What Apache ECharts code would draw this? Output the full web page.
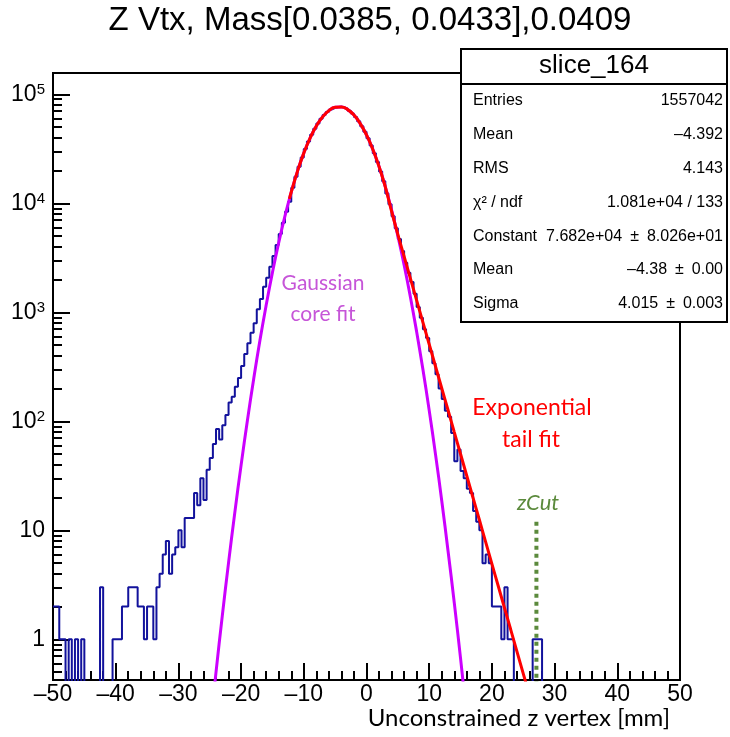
<!DOCTYPE html>
<html>
<head>
<meta charset="utf-8">
<script src="https://cdn.jsdelivr.net/npm/echarts@6/dist/echarts.min.js"></script>
<style>
  html, body { margin: 0; padding: 0; background: #fff; }
  #chart { width: 730px; height: 737px; }
</style>
</head>
<body>
<div id="chart"></div>
<script>
// z vertex histogram, 200 bins of 0.5 mm from -50 to 50
var binLow = -50;
var binWidth = 0.5;
var counts = [
  2, 2, 1, 1, 0, 1, 0, 1, 0, 1,
  0, 0, 0, 0, 0, 3, 0, 0, 0, 1,
  1, 1, 2, 2, 3, 3, 3, 2, 2, 1,
  2, 2, 1, 3, 4, 6, 8, 4, 6, 7,
  10, 7, 13, 13, 13, 22, 17, 30, 19, 36,
  46, 62, 85, 68, 92, 114, 149, 168, 208, 250,
  321, 414, 520, 650, 793, 1066, 1325, 1718, 2077, 2620,
  3285, 4145, 5228, 6637, 8375, 10350, 13900, 17500, 21600, 26300,
  31400, 36900, 42500, 48300, 54000, 59500, 64500, 68900, 72500, 75000,
  76400, 76800, 75900, 73800, 70700, 66700, 62000, 56600, 51000, 45200,
  39500, 33900, 28700, 23900, 19600, 15900, 12300, 9800, 7600, 5900,
  4700, 3650, 2850, 2300, 1900, 1480, 1120, 890, 700, 580,
  440, 340, 270, 200, 160, 125, 110, 78, 43, 55,
  35, 30, 24, 22, 15, 12, 10, 5, 6, 5,
  2, 2, 2, 1, 3, 1, 1, 0, 0, 0,
  0, 0, 0, 1, 1, 1, 0, 0, 0, 0,
  0, 0, 0, 0, 0, 0, 0, 0, 0, 0,
  0, 0, 0, 0, 0, 0, 0, 0, 0, 0,
  0, 0, 0, 0, 0, 0, 0, 0, 0, 0,
  0, 0, 0, 0, 0, 0, 0, 0, 0, 0
];

// gaussian core fit (magenta)
var gausZ = [-25, -24, -23, -22, -21, -20, -19, -18, -17, -16, -15, -14, -13, -12, -11, -10, -9, -8, -7, -6, -5,
  -4, -3, -2, -1, 0, 1, 2, 3, 4, 5, 6, 7, 8, 9, 10, 11, 12, 13, 14, 15, 16];
var gausN = [0.144, 0.50, 1.64, 5.05, 14.6, 39.6, 101, 243, 550, 1164, 2323, 4355, 7656, 12680, 19720, 28840, 39590, 51110, 62010, 70710, 75860,
  76380, 72280, 64400, 53830, 42340, 31270, 21730, 14160, 8690, 5010, 2716, 1384, 661, 298, 126, 50, 18.7, 6.5, 2.16, 0.67, 0.195];

// exponential tail fit (red)
var tailZ = [-12.3, -12, -11, -10, -9, -8, -7, -6, -5, -4, -3, -2, -1, 0, 1, 2, 3, 3.5, 4,
  5, 6, 7, 8, 9, 10, 11, 12, 13, 14, 15, 16, 17, 18, 19, 20, 21, 22, 23, 24, 25, 25.5];
var tailN = [11000, 12680, 19720, 28840, 39590, 51110, 62010, 70710, 75860, 76380, 72280, 64400, 53830, 42340, 31270, 21730, 14160, 11000, 8450,
  5180, 3250, 2047, 1286, 809, 509, 320, 201, 127, 79.6, 50.1, 31.5, 19.8, 12.5, 7.83, 4.93, 3.10, 1.95, 1.23, 0.771, 0.485, 0.385];

var zCut = 27.1;
var zCutTop = 12;

var yDecades = [0, 1, 2, 3, 4, 5];
var yMinorMult = [2, 3, 4, 5, 6, 7, 8, 9];
var yMin = -0.373, yMax = 5.195;

var statsNames = ['Entries', 'Mean', 'RMS', 'χ² / ndf', 'Constant', 'Mean', 'Sigma'];
var statsValues = ['1557042', '\u20134.392', '4.143', '1.081e+04 / 133',
  '7.682e+04\u2002\u00b1\u20028.026e+01', '\u20134.38\u2002\u00b1\u20020.00', '4.015\u2002\u00b1\u20020.003'];

var FONT = 'Liberation Sans';
var CAL = 'Lato';

function lg(v) { return v > 0 ? Math.log10(v) : -3; }

var histData = counts.map(function (c, i) { return [binLow + i * binWidth, lg(c)]; });
histData.push([binLow + counts.length * binWidth, lg(counts[counts.length - 1])]);

var gausData = gausZ.map(function (z, i) { return [z, lg(gausN[i])]; });
var tailData = tailZ.map(function (z, i) { return [z, lg(tailN[i])]; });

var minorTicks = [];
for (var d = -1; d <= 5; d++) {
  yMinorMult.forEach(function (m) {
    var v = d + Math.log10(m);
    if (v > yMin && v < yMax) minorTicks.push(v);
  });
}

var chart = echarts.init(document.getElementById('chart'));

var statsGraphics = [
  { type: 'rect', shape: { x: 461, y: 49, width: 266, height: 273 }, style: { fill: '#fff', stroke: '#000', lineWidth: 2 }, z: 100 },
  { type: 'line', shape: { x1: 461, y1: 84, x2: 727, y2: 84 }, style: { stroke: '#000', lineWidth: 2 }, z: 101 },
  { type: 'text', x: 594, y: 66, style: { text: 'slice_164', font: '26px "' + FONT + '"', fill: '#000', align: 'center', verticalAlign: 'middle' }, z: 101 }
];
statsNames.forEach(function (n, i) {
  var y = 101 + i * 33.8;
  statsGraphics.push({ type: 'text', x: 473, y: y, style: { text: n, font: '16px "' + FONT + '"', fill: '#000', align: 'left', verticalAlign: 'middle' }, z: 101 });
  statsGraphics.push({ type: 'text', x: 723, y: y, style: { text: statsValues[i], font: '16px "' + FONT + '"', fill: '#000', align: 'right', verticalAlign: 'middle' }, z: 101 });
});

var option = {
  animation: false,
  backgroundColor: '#fff',
  grid: { left: 53, right: 50, top: 73, bottom: 57, show: true, borderColor: '#000', borderWidth: 2, backgroundColor: 'transparent' },
  xAxis: {
    type: 'value', min: -50, max: 50, interval: 10,
    axisLine: { onZero: false, lineStyle: { color: '#000', width: 2 } },
    axisTick: { inside: true, length: 17, lineStyle: { color: '#000', width: 2 } },
    minorTick: { show: true, splitNumber: 5, length: 9, lineStyle: { color: '#000', width: 2 } },
    splitLine: { show: false },
    axisLabel: {
      margin: 3, fontSize: 23, fontFamily: FONT, color: '#000',
      formatter: function (v) { return v < 0 ? '\u2013' + (-v) : String(v); }
    }
  },
  yAxis: [{
    type: 'value', min: yMin, max: yMax,
    axisLine: { show: true, onZero: false, lineStyle: { color: '#000', width: 2 } },
    axisTick: { inside: true, length: 17, customValues: yDecades, lineStyle: { color: '#000', width: 2 } },
    splitLine: { show: false },
    axisLabel: {
      customValues: yDecades, margin: 8, fontFamily: FONT, fontSize: 23, color: '#000',
      formatter: function (v) {
        if (v === 0) return '1';
        if (v === 1) return '10';
        return '{b|10}{s|' + v + '}';
      },
      rich: {
        b: { fontSize: 23, fontFamily: FONT, color: '#000' },
        s: { fontSize: 15, fontFamily: FONT, color: '#000', verticalAlign: 'top' }
      }
    }
  }, {
    type: 'value', min: yMin, max: yMax, position: 'left',
    axisLine: { show: false, onZero: false },
    axisTick: { show: true, inside: true, length: 9, customValues: minorTicks, lineStyle: { color: '#000', width: 2 } },
    axisLabel: { show: false },
    splitLine: { show: false }
  }],
  graphic: [
    { type: 'text', x: 370, y: 21, style: { text: 'Z Vtx, Mass[0.0385, 0.0433],0.0409', font: '33px "' + FONT + '"', fill: '#000', align: 'center', verticalAlign: 'middle' } },
    { type: 'text', x: 670, y: 718, style: { text: 'Unconstrained z vertex [mm]', font: '24px "' + CAL + '"', fill: '#000', align: 'right', verticalAlign: 'middle' } },
    { type: 'text', x: 323, y: 283, style: { text: 'Gaussian', font: '21px "' + CAL + '"', fill: '#c655d8', align: 'center', verticalAlign: 'middle' }, z: 50 },
    { type: 'text', x: 323, y: 314, style: { text: 'core fit', font: '21px "' + CAL + '"', fill: '#c655d8', align: 'center', verticalAlign: 'middle' }, z: 50 },
    { type: 'text', x: 532, y: 408, style: { text: 'Exponential', font: '23px "' + CAL + '"', fill: '#ff0000', align: 'center', verticalAlign: 'middle' }, z: 50 },
    { type: 'text', x: 531, y: 440, style: { text: 'tail fit', font: '23px "' + CAL + '"', fill: '#ff0000', align: 'center', verticalAlign: 'middle' }, z: 50 },
    { type: 'text', x: 538, y: 503, style: { text: 'zCut', font: 'italic 22px "' + CAL + '"', fill: '#5b8a3c', align: 'center', verticalAlign: 'middle' }, z: 50 }
  ].concat(statsGraphics),
  series: [{
    type: 'line', data: histData, step: 'end', showSymbol: false, clip: true,
    lineStyle: { color: '#12129c', width: 2 }
  }, {
    type: 'line', data: gausData, smooth: true, showSymbol: false, clip: true,
    lineStyle: { color: '#cc00ff', width: 3 }
  }, {
    type: 'line', data: tailData, smooth: true, showSymbol: false, clip: true,
    lineStyle: { color: '#ff0000', width: 3 }
  }, {
    type: 'line', data: [[zCut, lg(zCutTop)], [zCut, -3]], showSymbol: false, clip: true,
    lineStyle: { color: '#5b8a3c', width: 4, type: [4, 4] }
  }]
};
chart.setOption(option);
</script>
</body>
</html>
